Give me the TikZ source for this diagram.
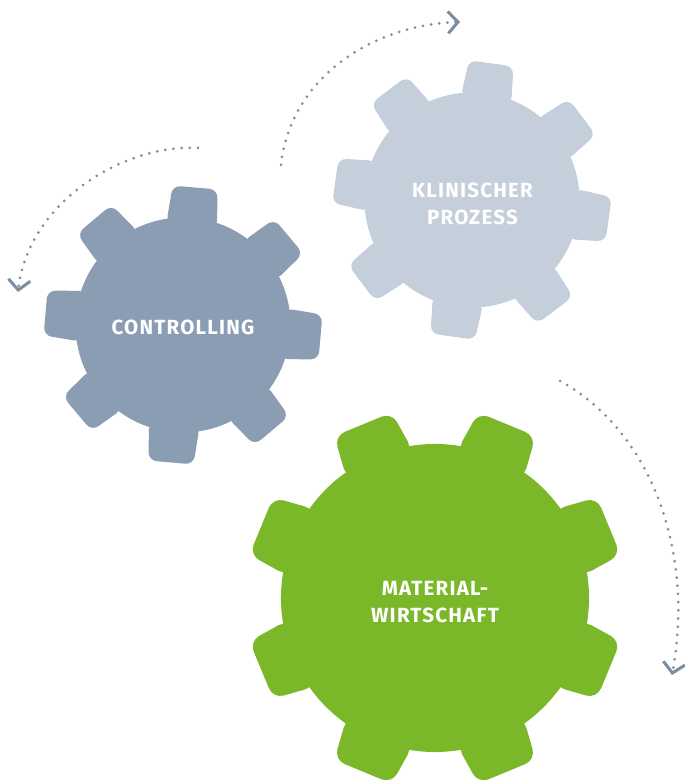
\documentclass[tikz,border=0pt]{standalone}
\usepackage{fontspec}
\newfontfamily\gearfont[LetterSpace=6]{Fira Sans}
\usetikzlibrary{arrows.meta}

\begin{document}
\begin{tikzpicture}[x=1pt,y=1pt]

\definecolor{slategear}{RGB}{139,157,178}
\definecolor{palegear}{RGB}{197,207,220}
\definecolor{greengear}{RGB}{122,184,41}
\colorlet{dotcolor}{slategear!90!black}

\tikzset{
  gearlabel/.style={text=white,align=center,
    font=\gearfont\bfseries\fontsize{20.5}{27}\selectfont},
  turnarrow/.style={dotcolor,line width=3pt,line cap=round,
    dash pattern=on 0pt off 8.2pt,
    -{Straight Barb[length=10pt,width=22pt,line width=3pt]}}
}

\useasboundingbox (0,0) rectangle (685,780);

% SIZES OF THE TWO SMALL GEARS
\def\bodyrad{107.5}
\def\tiprad{138}
\def\basehw{25.5}
\def\tiphw{22.5}
\def\toothround{8pt}

% DRAW THE "CONTROLLING" GEAR
\begin{scope}[shift={(183,455)},rotate=85]
  \fill[slategear] (0,0) circle (\bodyrad);
  \foreach \a in {0,45,...,315}
    \fill[slategear,rotate=\a,rounded corners=\toothround]
      ({\bodyrad-8},-\basehw) -- (\tiprad,-\tiphw) -- (\tiprad,\tiphw) -- ({\bodyrad-8},\basehw) -- cycle;
\end{scope}
\node[gearlabel] (controlling) at (183,452.5) {CONTROLLING};

% DRAW THE "KLINISCHER PROZESS" GEAR
\begin{scope}[shift={(472,580)},rotate=82]
  \fill[palegear] (0,0) circle (\bodyrad);
  \foreach \a in {0,45,...,315}
    \fill[palegear,rotate=\a,rounded corners=\toothround]
      ({\bodyrad-8},-\basehw) -- (\tiprad,-\tiphw) -- (\tiprad,\tiphw) -- ({\bodyrad-8},\basehw) -- cycle;
\end{scope}
\node[gearlabel] (prozess) at (472.5,576) {KLINISCHER\\PROZESS};

% THE BIG GEAR
\def\bodyrad{154}
\def\tiprad{188}
\def\basehw{36}
\def\tiphw{31}
\def\toothround{11pt}

% DRAW THE "MATERIALWIRTSCHAFT" GEAR
\begin{scope}[shift={(435,182)},rotate=22.5]
  \fill[greengear] (0,0) circle (\bodyrad);
  \foreach \a in {0,45,...,315}
    \fill[greengear,rotate=\a,rounded corners=\toothround]
      ({\bodyrad-10},-\basehw) -- (\tiprad,-\tiphw) -- (\tiprad,\tiphw) -- ({\bodyrad-10},\basehw) -- cycle;
\end{scope}
\node[gearlabel] (material) at (435,177.5) {MATERIAL-\\WIRTSCHAFT};

% DRAW THE TURNING ARROWS
\coordinate (lefttail) at (198,632);
\coordinate (lefthead) at (18,488);
\coordinate (toptail) at (281,615);
\coordinate (tophead) at (460,758);
\coordinate (righttail) at (560,399);
\coordinate (righthead) at (672,105);

\draw[turnarrow] (lefttail) .. controls (120,636) and (28,575) .. (lefthead);
\draw[turnarrow] (toptail) .. controls (290,700) and (370,755) .. (tophead);
\draw[turnarrow] (righttail) .. controls (650,350) and (695,230) .. (righthead);

\end{tikzpicture}
\end{document}
